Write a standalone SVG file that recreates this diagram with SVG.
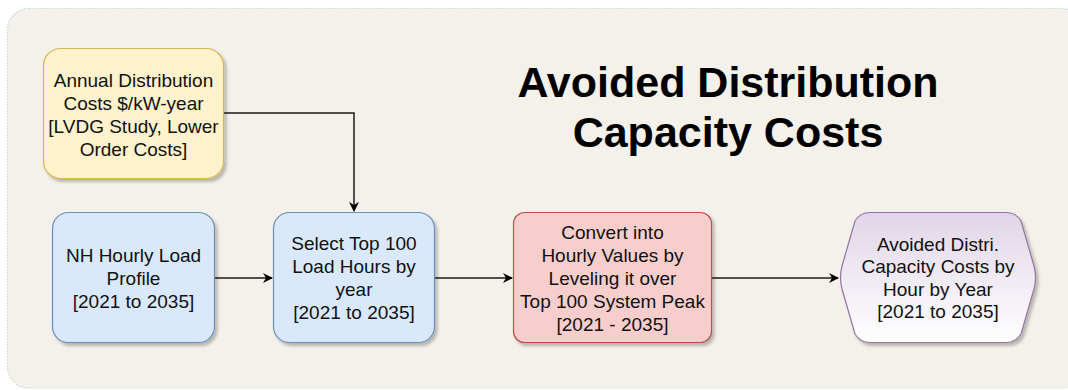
<svg xmlns="http://www.w3.org/2000/svg" width="1068" height="390" viewBox="0 0 1068 390">
  <style>
    .lbl { font-family: "Liberation Sans", Arial, sans-serif; font-size: 19px; fill: #111; text-anchor: middle; }
    .title { font-family: "Liberation Sans", Arial, sans-serif; font-size: 43px; font-weight: bold; fill: #000; text-anchor: middle; }
    .edge { fill: none; stroke: #1a1a1a; stroke-width: 1.5; }
  </style>
  <defs>
    <filter id="sh" x="-10%" y="-10%" width="130%" height="130%">
      <feDropShadow dx="2.5" dy="3" stdDeviation="1.5" flood-color="#000" flood-opacity="0.25"/>
    </filter>
    <linearGradient id="purp" x1="0" y1="0" x2="0" y2="1">
      <stop offset="0" stop-color="#e1d5e7"/>
      <stop offset="1" stop-color="#ffffff"/>
    </linearGradient>
    <marker id="arr" viewBox="0 0 10 10" refX="9" refY="5" markerWidth="10" markerHeight="10" markerUnits="userSpaceOnUse" orient="auto">
      <path d="M0,0 L10,5 L0,10 L3,5 z" fill="#000"/>
    </marker>
  </defs>

  <rect id="container" x="7.5" y="8.5" width="1075" height="379.5" rx="21" fill="#f4f1ea" stroke="#c5d6d8" stroke-width="1.2" stroke-dasharray="1.5 1.5"/>

  <g id="title">
    <text class="title" x="728" y="97">Avoided Distribution</text>
    <text class="title" x="728" y="147">Capacity Costs</text>
  </g>

  <g id="connectors">
    <path class="edge" d="M223,113 H354 V211" marker-end="url(#arr)"/>
    <path class="edge" d="M215,278 H272" marker-end="url(#arr)"/>
    <path class="edge" d="M435,278 H512" marker-end="url(#arr)"/>
    <path class="edge" d="M712,278 H838" marker-end="url(#arr)"/>
  </g>

  <g id="annual">
    <rect x="43.5" y="48.5" width="180" height="130" rx="17" fill="#fff2cc" stroke="#d6b656" stroke-width="1.2" filter="url(#sh)"/>
    <text class="lbl" x="133.5" y="87">Annual Distribution</text>
    <text class="lbl" x="133.5" y="110">Costs $/kW-year</text>
    <text class="lbl" x="133.5" y="133">[LVDG Study, Lower</text>
    <text class="lbl" x="133.5" y="156">Order Costs]</text>
  </g>

  <g id="nh">
    <rect x="52.5" y="212.5" width="162" height="130" rx="16" fill="#dae8fc" stroke="#6c8ebf" stroke-width="1.2" filter="url(#sh)"/>
    <text class="lbl" x="133.5" y="262">NH Hourly Load</text>
    <text class="lbl" x="133.5" y="285">Profile</text>
    <text class="lbl" x="133.5" y="308">[2021 to 2035]</text>
  </g>

  <g id="select">
    <rect x="273.5" y="212.5" width="161" height="130" rx="16" fill="#dae8fc" stroke="#6c8ebf" stroke-width="1.2" filter="url(#sh)"/>
    <text class="lbl" x="354" y="250">Select Top 100</text>
    <text class="lbl" x="354" y="273">Load Hours by</text>
    <text class="lbl" x="354" y="296">year</text>
    <text class="lbl" x="354" y="319">[2021 to 2035]</text>
  </g>

  <g id="convert">
    <rect x="513.5" y="212.5" width="198" height="130" rx="11" fill="#f8cecc" stroke="#b85450" stroke-width="1.2" filter="url(#sh)"/>
    <text class="lbl" x="612.5" y="239">Convert into</text>
    <text class="lbl" x="612.5" y="262">Hourly Values by</text>
    <text class="lbl" x="612.5" y="285">Leveling it over</text>
    <text class="lbl" x="612.5" y="308">Top 100 System Peak</text>
    <text class="lbl" x="612.5" y="331">[2021 - 2035]</text>
  </g>

  <g id="result">
    <path d="M870,212.5 H1006 Q1016,212.5 1021,221 L1034,266 Q1037,277.5 1034,289 L1021,334 Q1016,342.5 1006,342.5 H870 Q860,342.5 855,334 L842,289 Q839,277.5 842,266 L855,221 Q860,212.5 870,212.5 Z" fill="url(#purp)" stroke="#9673a6" stroke-width="1.2" filter="url(#sh)"/>
    <text class="lbl" x="938" y="251">Avoided Distri.</text>
    <text class="lbl" x="938" y="273">Capacity Costs by</text>
    <text class="lbl" x="938" y="296">Hour by Year</text>
    <text class="lbl" x="938" y="318">[2021 to 2035]</text>
  </g>
</svg>
